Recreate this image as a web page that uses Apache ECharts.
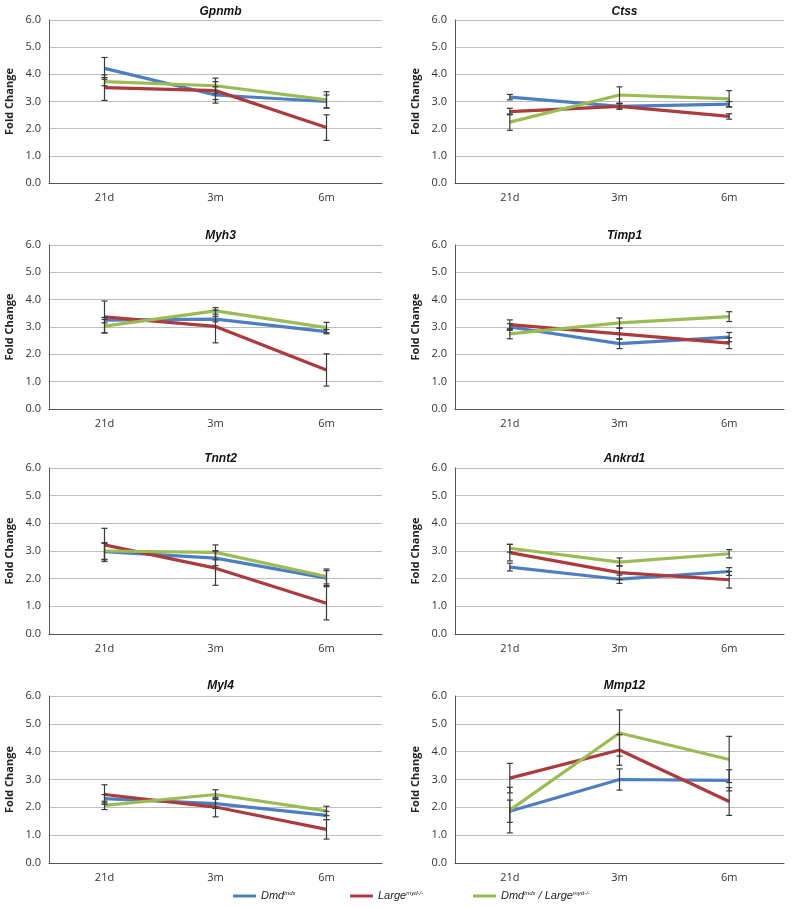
<!DOCTYPE html>
<html>
<head>
<meta charset="utf-8">
<script src="https://cdn.jsdelivr.net/npm/echarts@6/dist/echarts.min.js"></script>
<style>
html,body{margin:0;padding:0;background:#fff;}
#chart{width:792px;height:907px;}
</style>
</head>
<body>
<div id="chart"></div>
<script>
// ---- data ----
const categories = ['21d', '3m', '6m'];
const genes = ['Gpnmb', 'Ctss', 'Myh3', 'Timp1', 'Tnnt2', 'Ankrd1', 'Myl4', 'Mmp12'];
const yTicks = [0, 1, 2, 3, 4, 5, 6];
const seriesNames = ['Dmd mdx', 'Large myd-/-', 'Dmd mdx / Large myd-/-'];

// means per gene [21d, 3m, 6m]
const dmdMean = [
  [4.22, 3.24, 3.00],
  [3.16, 2.82, 2.90],
  [3.25, 3.29, 2.83],
  [3.00, 2.39, 2.63],
  [2.98, 2.74, 2.02],
  [2.42, 1.98, 2.26],
  [2.31, 2.13, 1.71],
  [1.86, 3.00, 2.97]
];
const largeMean = [
  [3.51, 3.40, 2.04],
  [2.63, 2.82, 2.45],
  [3.37, 3.02, 1.43],
  [3.09, 2.75, 2.41],
  [3.22, 2.38, 1.11],
  [2.94, 2.22, 1.96],
  [2.46, 2.01, 1.21],
  [3.05, 4.06, 2.21]
];
const doubleMean = [
  [3.73, 3.58, 3.06],
  [2.24, 3.24, 3.10],
  [3.03, 3.59, 2.98],
  [2.75, 3.15, 3.38],
  [3.00, 2.95, 2.08],
  [3.10, 2.60, 2.90],
  [2.07, 2.46, 1.87],
  [1.90, 4.67, 3.72]
];
// error (+/-) per gene
const dmdErr = [
  [0.40, 0.30, 0.24],
  [0.10, 0.10, 0.10],
  [0.10, 0.10, 0.08],
  [0.12, 0.18, 0.17],
  [0.30, 0.27, 0.27],
  [0.14, 0.15, 0.14],
  [0.15, 0.17, 0.15],
  [0.40, 0.38, 0.38]
];
const largeErr = [
  [0.47, 0.33, 0.47],
  [0.12, 0.10, 0.10],
  [0.58, 0.60, 0.59],
  [0.17, 0.20, 0.20],
  [0.60, 0.62, 0.60],
  [0.30, 0.25, 0.30],
  [0.35, 0.35, 0.35],
  [0.53, 0.55, 0.50]
];
const doubleErr = [
  [0.15, 0.28, 0.30],
  [0.30, 0.30, 0.30],
  [0.25, 0.12, 0.19],
  [0.18, 0.18, 0.18],
  [0.30, 0.27, 0.27],
  [0.14, 0.15, 0.15],
  [0.15, 0.17, 0.17],
  [0.82, 0.83, 0.83]
];

// ---- layout ----
const colors = ['#4e7ec2', '#ab3b3c', '#9bbb55'];
const colLeft = [49, 455];
const colWidth = [333, 329];
const rowTop = [20, 245, 468, 696];
const rowHeight = [163, 164, 166, 167];
const titleTop = [1, 225, 448, 675];

const grids = [], xAxes = [], yAxes = [], titles = [], series = [];
const means = [dmdMean, largeMean, doubleMean];
const errs = [dmdErr, largeErr, doubleErr];

genes.forEach((g, i) => {
  const r = Math.floor(i / 2), c = i % 2;
  grids.push({left: colLeft[c], top: rowTop[r], width: colWidth[c], height: rowHeight[r]});
  titles.push({
    text: g,
    left: colLeft[c] + colWidth[c] / 2,
    top: titleTop[r],
    textAlign: 'center',
    textStyle: {fontFamily: 'Liberation Sans', fontStyle: 'italic', fontWeight: 'bold', fontSize: 12, color: '#111'}
  });
  xAxes.push({
    type: 'category', gridIndex: i, data: categories, boundaryGap: true,
    axisLine: {show: true, lineStyle: {color: '#555', width: 1}},
    axisTick: {show: false},
    axisLabel: {margin: 9, fontFamily: 'Open Sans', fontSize: 11, color: '#333'},
    splitLine: {show: false}
  });
  yAxes.push({
    type: 'value', gridIndex: i, min: yTicks[0], max: yTicks[yTicks.length - 1], interval: 1,
    name: 'Fold Change', nameLocation: 'middle', nameGap: 34, nameRotate: 90,
    nameTextStyle: {fontFamily: 'Open Sans', fontWeight: 'bold', fontSize: 11, color: '#222'},
    axisLine: {show: true, lineStyle: {color: '#555', width: 1}},
    axisTick: {show: false},
    axisLabel: {margin: 8, fontFamily: 'Open Sans', fontSize: 11, color: '#333', formatter: v => v.toFixed(1)},
    splitLine: {show: true, lineStyle: {color: '#bdbdbd', width: 1}}
  });
  for (let s = 0; s < 3; s++) {
    series.push({
      name: seriesNames[s], type: 'line', xAxisIndex: i, yAxisIndex: i,
      data: means[s][i], showSymbol: false, symbol: 'none',
      lineStyle: {color: colors[s], width: 3.2}, itemStyle: {color: colors[s]},
      z: 3, animation: false
    });
  }
  const ebData = [];
  for (let s = 0; s < 3; s++) {
    for (let k = 0; k < 3; k++) {
      const m = means[s][i][k], e = errs[s][i][k];
      ebData.push([k, m - e, m + e]);
    }
  }
  series.push({
    type: 'custom', xAxisIndex: i, yAxisIndex: i, z: 5, silent: true, animation: false,
    data: ebData,
    renderItem: function (params, api) {
      const lo = api.coord([api.value(0), api.value(1)]);
      const hi = api.coord([api.value(0), api.value(2)]);
      const hw = 3;
      const st = {stroke: '#3a3a3a', lineWidth: 1.2};
      return {type: 'group', children: [
        {type: 'line', shape: {x1: lo[0], y1: lo[1], x2: hi[0], y2: hi[1]}, style: st},
        {type: 'line', shape: {x1: lo[0] - hw, y1: lo[1], x2: lo[0] + hw, y2: lo[1]}, style: st},
        {type: 'line', shape: {x1: hi[0] - hw, y1: hi[1], x2: hi[0] + hw, y2: hi[1]}, style: st}
      ]};
    }
  });
});

const legendRich = {
  i: {fontFamily: 'Liberation Sans', fontStyle: 'italic', fontSize: 11, color: '#222'},
  s: {fontFamily: 'Liberation Sans', fontStyle: 'italic', fontSize: 6, color: '#222', verticalAlign: 'top', padding: [0, 0, 6, 0]}
};
const legendFmt = {
  'Dmd mdx': '{i|Dmd}{s|mdx}',
  'Large myd-/-': '{i|Large}{s|myd-/-}',
  'Dmd mdx / Large myd-/-': '{i|Dmd}{s|mdx}{i| / Large}{s|myd-/-}'
};
const legendLeft = [233, 350, 473];
const legends = seriesNames.map((n, k) => ({
  data: [n], left: legendLeft[k], top: 890, orient: 'horizontal', padding: 0,
  icon: 'rect', itemWidth: 23, itemHeight: 3, itemGap: 5,
  formatter: name => legendFmt[name],
  textStyle: {rich: legendRich},
  selectedMode: false
}));

const chart = echarts.init(document.getElementById('chart'), null, {renderer: 'canvas'});
chart.setOption({
  backgroundColor: '#fff',
  animation: false,
  color: colors,
  title: titles,
  legend: legends,
  grid: grids,
  xAxis: xAxes,
  yAxis: yAxes,
  series: series
});
</script>
</body>
</html>
